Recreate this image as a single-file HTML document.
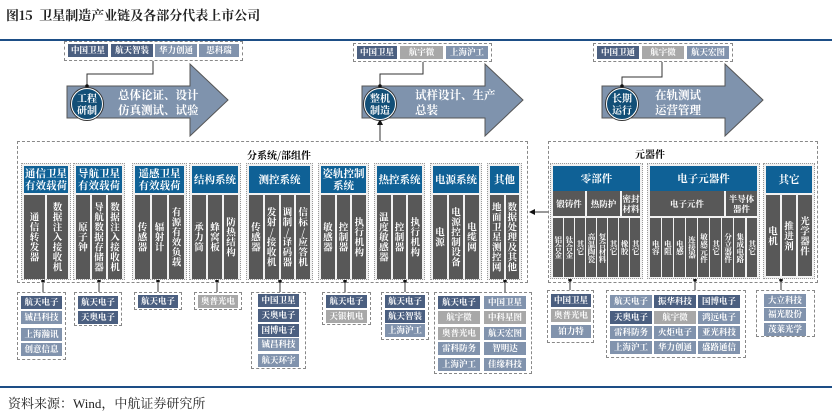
<!DOCTYPE html>
<html><head><meta charset="utf-8"><style>
*{margin:0;padding:0;box-sizing:border-box}
body{width:832px;height:414px;background:#fff;position:relative;overflow:hidden;font-family:"Liberation Serif","Noto Serif CJK SC","Noto Sans CJK SC",serif;}
.a{position:absolute}
.c{position:absolute;height:13px;font-size:8.5px;font-weight:bold;color:#fff;text-align:center;line-height:13px;white-space:nowrap;overflow:hidden}
.d{background:#4b5f80}.m{background:#8193ad}.y{background:#a8a8a8}
.cb{position:absolute;border:1.5px dashed #888;background:#fff}
.g{position:absolute;top:163px;height:117px;border:1px dotted #999;padding:2px;background:#f2f2f2}
.h{height:27px;background:#0f6196;color:#fff;font-size:10.5px;font-weight:bold;text-align:center;display:flex;align-items:center;justify-content:center;line-height:12px;font-family:"Noto Serif CJK SC","Noto Sans CJK SC",serif}
.b{display:flex;gap:2px;height:84px;margin-top:2px}
.b div{flex:1;background:#585858;color:#fff;writing-mode:vertical-rl;text-orientation:upright;font-size:9.5px;font-weight:bold;display:flex;align-items:center;justify-content:center;line-height:10px;font-family:"Noto Serif CJK SC","Noto Sans CJK SC",serif;letter-spacing:0.5px}
.r{position:absolute;background:#585858;color:#fff;font-size:8.5px;font-weight:bold;display:flex;align-items:center;justify-content:center;text-align:center;line-height:10px;font-family:"Noto Serif CJK SC","Noto Sans CJK SC",serif}
.v{writing-mode:vertical-rl;text-orientation:upright;font-size:7.5px;line-height:8px}
.at{position:absolute;color:#fff;font-size:11.5px;font-weight:bold;line-height:15px;font-family:"Noto Serif CJK SC","Noto Sans CJK SC",serif}
.ci{position:absolute;width:32px;height:32px;border-radius:50%;background:#134f77;border:1.5px solid #fff;box-shadow:0 0 0 1px #333;color:#fff;font-size:10px;font-weight:bold;line-height:12px;display:flex;align-items:center;justify-content:center;text-align:center;font-family:"Noto Serif CJK SC","Noto Sans CJK SC",serif}
</style></head><body>
<div class="a" style="left:6px;top:5px;font-size:13px;font-weight:bold;color:#222;font-family:'Noto Serif CJK SC','Noto Sans CJK SC',serif">图15 &nbsp;卫星制造产业链及各部分代表上市公司</div>
<div class="a" style="left:0;top:39px;width:832px;height:2px;background:#1d4e86"></div>
<div class="a" style="left:0;top:386px;width:832px;height:2px;background:#1d4e86"></div>
<div class="a" style="left:8px;top:393px;font-size:13px;color:#222">资料来源：Wind，中航证券研究所</div>

<svg class="a" style="left:0;top:0" width="832" height="414">
<g fill="#7f93ad" stroke="#555" stroke-width="1">
<polygon points="67,86 190,86 190,64 228,100 190,136 190,118 67,118"/>
<polygon points="362,86 485,86 485,64 523,100 485,136 485,118 362,118"/>
<polygon points="602,86 725,86 725,64 763,100 725,136 725,118 602,118"/>
</g>
<g fill="none" stroke="#333" stroke-width="1">
<polyline points="153,61 153,74 87,74 87,86"/>
<polyline points="423,61 423,74 380,74 380,86"/>
<polyline points="662,61 662,77 622,77 622,86"/>
<line x1="380" y1="141" x2="380" y2="119"/>
<line x1="548" y1="212" x2="530" y2="212"/>
<g>
<line x1="43" y1="281" x2="43" y2="292"/><line x1="99" y1="281" x2="99" y2="292"/><line x1="158" y1="281" x2="158" y2="292"/><line x1="217" y1="281" x2="217" y2="292"/><line x1="280" y1="281" x2="280" y2="292"/><line x1="345" y1="281" x2="345" y2="292"/><line x1="405" y1="281" x2="405" y2="292"/><line x1="505" y1="281" x2="505" y2="292"/><line x1="570" y1="280" x2="570" y2="290"/><line x1="695" y1="280" x2="695" y2="290"/><line x1="781" y1="280" x2="781" y2="290"/>
</g></g>
<g fill="#111"><polygon points="380,119 377,125 383,125"/><polygon points="529,212 535,209 535,215"/>
<circle cx="87" cy="86" r="1.8"/><circle cx="380" cy="86" r="1.8"/><circle cx="622" cy="86" r="1.8"/>
<circle cx="43" cy="281" r="1.8"/><circle cx="99" cy="281" r="1.8"/><circle cx="158" cy="281" r="1.8"/><circle cx="217" cy="281" r="1.8"/><circle cx="280" cy="281" r="1.8"/><circle cx="345" cy="281" r="1.8"/><circle cx="405" cy="281" r="1.8"/><circle cx="505" cy="281" r="1.8"/><circle cx="570" cy="280" r="1.8"/><circle cx="695" cy="280" r="1.8"/><circle cx="781" cy="280" r="1.8"/></g>
</svg>

<div class="cb" style="left:64px;top:41px;width:179px;height:20px"></div>
<div class="c d" style="left:68px;top:44px;width:40px">中国卫星</div>
<div class="c d" style="left:111px;top:44px;width:42px">航天智装</div>
<div class="c m" style="left:155px;top:44px;width:42px">华力创通</div>
<div class="c m" style="left:199px;top:44px;width:40px">思科瑞</div>
<div class="cb" style="left:353px;top:43px;width:139px;height:19px"></div>
<div class="c d" style="left:357px;top:46px;width:40px">中国卫星</div>
<div class="c y" style="left:400px;top:46px;width:43px">航宇微</div>
<div class="c m" style="left:446px;top:46px;width:42px">上海沪工</div>
<div class="cb" style="left:593px;top:43px;width:140px;height:19px"></div>
<div class="c d" style="left:597px;top:46px;width:42px">中国卫通</div>
<div class="c y" style="left:642px;top:46px;width:42px">航宇微</div>
<div class="c m" style="left:687px;top:46px;width:42px">航天宏图</div>

<div class="ci" style="left:71px;top:88px">工程<br>研制</div>
<div class="at" style="left:118px;top:88px">总体论证、设计<br>仿真测试、试验</div>
<div class="ci" style="left:364px;top:88px">整机<br>制造</div>
<div class="at" style="left:415px;top:88px">试样设计、生产<br>总装</div>
<div class="ci" style="left:606px;top:88px">长期<br>运行</div>
<div class="at" style="left:655px;top:88px">在轨测试<br>运营管理</div>

<div class="cb" style="left:17px;top:141px;width:511px;height:142px;background:transparent"></div>
<div class="a" style="left:247px;top:147px;font-size:10px;font-weight:bold;font-family:'Noto Serif CJK SC','Noto Sans CJK SC',serif">分系统/部组件</div>
<div class="cb" style="left:548px;top:141px;width:270px;height:142px;background:transparent"></div>
<div class="a" style="left:635px;top:146px;font-size:10px;font-weight:bold;font-family:'Noto Serif CJK SC','Noto Sans CJK SC',serif">元器件</div>

<div class="g" style="left:21px;width:50px"><div class="h">通信卫星<br>有效载荷</div><div class="b"><div>通信转发器</div><div>数据注入接收机</div></div></div>
<div class="g" style="left:73px;width:52px"><div class="h">导航卫星<br>有效载荷</div><div class="b"><div>原子钟</div><div>导航数据存储器</div><div>数据注入接收机</div></div></div>
<div class="g" style="left:132px;width:55px"><div class="h">遥感卫星<br>有效载荷</div><div class="b"><div>传感器</div><div>辐射计</div><div>有源有效负载</div></div></div>
<div class="g" style="left:189px;width:52px"><div class="h">结构系统</div><div class="b"><div>承力筒</div><div>蜂窝板</div><div>防热结构</div></div></div>
<div class="g" style="left:246px;width:67px"><div class="h">测控系统</div><div class="b"><div>传感器</div><div>发射/接收机</div><div>调制/译码器</div><div>信标/应答机</div></div></div>
<div class="g" style="left:318px;width:51px"><div class="h">姿轨控制<br>系统</div><div class="b"><div>敏感器</div><div>控制器</div><div>执行机构</div></div></div>
<div class="g" style="left:374px;width:51px"><div class="h">热控系统</div><div class="b"><div>温度敏感器</div><div>控制器</div><div>执行机构</div></div></div>
<div class="g" style="left:430px;width:52px"><div class="h">电源系统</div><div class="b"><div>电源</div><div>电源控制设备</div><div>电缆网</div></div></div>
<div class="g" style="left:487px;width:35px"><div class="h">其他</div><div class="b"><div>地面卫星测控网</div><div>数据处理及其他</div></div></div>

<div class="g" style="left:550px;width:93px;height:116px;top:163px"><div class="h" style="height:25px">零部件</div></div>
<div class="r" style="left:553px;top:191px;width:32px;height:25px">锻铸件</div>
<div class="r" style="left:587px;top:191px;width:33px;height:25px">热防护</div>
<div class="r" style="left:622px;top:191px;width:18px;height:25px">密封<br>材料</div>
<div class="a" style="left:553px;top:218px;width:87px;height:59px;display:flex;gap:1.5px">
<div class="r v" style="position:static;flex:1">铝合金</div><div class="r v" style="position:static;flex:1">钛合金</div><div class="r v" style="position:static;flex:1">其它</div><div class="r v" style="position:static;flex:1">高温陶瓷</div><div class="r v" style="position:static;flex:1">复合材料</div><div class="r v" style="position:static;flex:1">其它</div><div class="r v" style="position:static;flex:1">橡胶</div><div class="r v" style="position:static;flex:1">其它</div></div>

<div class="g" style="left:647px;width:113px;height:116px;top:163px"><div class="h" style="height:25px">电子元器件</div></div>
<div class="r" style="left:650px;top:191px;width:74px;height:25px">电子元件</div>
<div class="r" style="left:726px;top:191px;width:31px;height:25px">半导体<br>器件</div>
<div class="a" style="left:650px;top:218px;width:107px;height:59px;display:flex;gap:1.5px">
<div class="r v" style="position:static;flex:1">电容</div><div class="r v" style="position:static;flex:1">电阻</div><div class="r v" style="position:static;flex:1">电感</div><div class="r v" style="position:static;flex:1">连接器</div><div class="r v" style="position:static;flex:1">敏感元件</div><div class="r v" style="position:static;flex:1">其它</div><div class="r v" style="position:static;flex:1">分立器件</div><div class="r v" style="position:static;flex:1">集成电路</div><div class="r v" style="position:static;flex:1">其它</div></div>

<div class="g" style="left:763px;width:52px;height:116px;top:163px"><div class="h">其它</div><div class="b" style="height:81px"><div>电机</div><div>推进剂</div><div>光学器件</div></div></div>

<div class="cb" style="left:17px;top:292px;width:49px;height:68px"></div>
<div class="c d" style="left:21px;top:296px;width:41px">航天电子</div>
<div class="c m" style="left:21px;top:311px;width:41px">铖昌科技</div>
<div class="c m" style="left:21px;top:328px;width:41px">上海瀚讯</div>
<div class="c m" style="left:21px;top:343px;width:41px">创意信息</div>

<div class="cb" style="left:74px;top:292px;width:48px;height:34px"></div>
<div class="c d" style="left:78px;top:296px;width:40px">航天电子</div>
<div class="c d" style="left:78px;top:311px;width:40px">天奥电子</div>

<div class="cb" style="left:134px;top:292px;width:48px;height:18px"></div>
<div class="c d" style="left:138px;top:295px;width:40px">航天电子</div>

<div class="cb" style="left:194px;top:292px;width:48px;height:18px"></div>
<div class="c y" style="left:198px;top:295px;width:40px">奥普光电</div>

<div class="cb" style="left:251px;top:292px;width:55px;height:77px"></div>
<div class="c d" style="left:258px;top:294px;width:41px">中国卫星</div>
<div class="c d" style="left:258px;top:309px;width:41px">天奥电子</div>
<div class="c d" style="left:258px;top:324px;width:41px">国博电子</div>
<div class="c m" style="left:258px;top:338px;width:41px">铖昌科技</div>
<div class="c m" style="left:258px;top:354px;width:41px">航天环宇</div>

<div class="cb" style="left:322px;top:292px;width:49px;height:33px"></div>
<div class="c d" style="left:326px;top:295px;width:41px">航天电子</div>
<div class="c y" style="left:326px;top:310px;width:41px">天银机电</div>

<div class="cb" style="left:381px;top:292px;width:48px;height:48px"></div>
<div class="c d" style="left:385px;top:295px;width:40px">航天电子</div>
<div class="c d" style="left:385px;top:310px;width:40px">航天智装</div>
<div class="c m" style="left:385px;top:324px;width:40px">上海沪工</div>

<div class="cb" style="left:434px;top:292px;width:98px;height:82px"></div>
<div class="c d" style="left:438px;top:296px;width:42px">航天电子</div><div class="c m" style="left:484px;top:296px;width:42px">中国卫星</div>
<div class="c y" style="left:438px;top:311px;width:42px">航宇微</div><div class="c y" style="left:484px;top:311px;width:42px">中科星图</div>
<div class="c y" style="left:438px;top:327px;width:42px">奥普光电</div><div class="c m" style="left:484px;top:327px;width:42px">航天宏图</div>
<div class="c m" style="left:438px;top:342px;width:42px">雷科防务</div><div class="c m" style="left:484px;top:342px;width:42px">智明达</div>
<div class="c m" style="left:438px;top:358px;width:42px">上海沪工</div><div class="c m" style="left:484px;top:358px;width:42px">佳缘科技</div>

<div class="cb" style="left:547px;top:290px;width:47px;height:53px"></div>
<div class="c d" style="left:551px;top:294px;width:40px">中国卫星</div>
<div class="c y" style="left:551px;top:309px;width:40px">奥普光电</div>
<div class="c m" style="left:551px;top:325px;width:40px">铂力特</div>

<div class="cb" style="left:606px;top:290px;width:140px;height:68px"></div>
<div class="c m" style="left:610px;top:295px;width:42px">航天电子</div><div class="c d" style="left:654px;top:295px;width:42px">振华科技</div><div class="c d" style="left:698px;top:295px;width:42px">国博电子</div>
<div class="c d" style="left:610px;top:311px;width:42px">天奥电子</div><div class="c y" style="left:654px;top:311px;width:42px">航宇微</div><div class="c m" style="left:698px;top:311px;width:42px">鸿远电子</div>
<div class="c m" style="left:610px;top:326px;width:42px">雷科防务</div><div class="c m" style="left:654px;top:326px;width:42px">火炬电子</div><div class="c m" style="left:698px;top:326px;width:42px">亚光科技</div>
<div class="c m" style="left:610px;top:341px;width:42px">上海沪工</div><div class="c m" style="left:654px;top:341px;width:42px">华力创通</div><div class="c m" style="left:698px;top:341px;width:42px">盛路通信</div>

<div class="cb" style="left:756px;top:290px;width:59px;height:47px"></div>
<div class="c m" style="left:764px;top:294px;width:42px">大立科技</div>
<div class="c m" style="left:764px;top:308px;width:42px">福光股份</div>
<div class="c m" style="left:764px;top:323px;width:42px">茂莱光学</div>
</body></html>
